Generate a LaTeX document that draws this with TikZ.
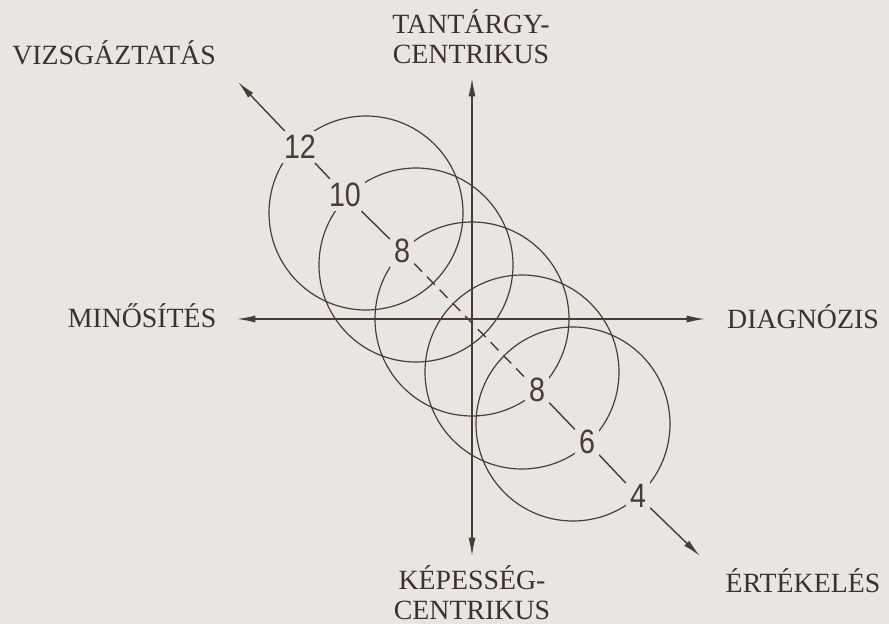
\documentclass[tikz,border=0pt]{standalone}
\usepackage{fontspec}
\setmainfont{Liberation Serif}
\newfontfamily\agefont[FakeStretch=0.85]{Liberation Sans}
\usepackage{tikz}
\usetikzlibrary{positioning,arrows.meta,calc}
\definecolor{pgpaper}{HTML}{E9E5E1}
\definecolor{pgink}{HTML}{4A3B37}
\definecolor{pgtext}{HTML}{3D312E}

\begin{document}
\begin{tikzpicture}[x=0.025cm,y=-0.025cm,
    axis/.style={pgink,line width=1pt,{Latex[length=13pt,width=5pt]}-{Latex[length=13pt,width=5pt]}},
    ray/.style={pgink,line width=1pt,-{Latex[length=13pt,width=5pt]}},
    ring/.style={pgink,line width=0.85pt},
    agelabel/.style={fill=pgpaper,text=pgink,inner sep=2.8pt,font=\agefont\fontsize{24}{24}\selectfont},
    pole/.style={text=pgtext,inner sep=0pt,font=\fontsize{19.8}{21.5}\selectfont}]
  \fill[pgpaper] (0,0) rectangle (889,624);
  \useasboundingbox (0,0) rectangle (889,624);
  \coordinate (O) at (472,319);
  \coordinate (upTip) at (472,78);
  \coordinate (downTip) at (472,556);
  \coordinate (leftTip) at (237,319);
  \coordinate (rightTip) at (705,319);
  \coordinate (ulTip) at (238,82);
  \coordinate (lrTip) at (700,556);
  \foreach \cx/\cy in {366/213,416/265,472/319,522/372,573/424}
    \draw[ring] (\cx,\cy) circle[radius=97];
  \foreach \name/\x/\y/\age in {n12/300/147/12,n10/345/195/10,n8a/402/251/8,
      n8b/537/390/8,n6/587/442/6,n4/638/496/4}
    \node[agelabel] (\name) at (\x,\y) {\age};
  \draw[axis] (downTip) -- (upTip);
  \draw[axis] (leftTip) -- (rightTip);
  \draw[ray] (n12) -- (ulTip);
  \draw[ray] (n4) -- (lrTip);
  \draw[pgink,line width=1pt] (n12) -- (n10) -- (n8a);
  \draw[pgink,line width=1pt] (n8b) -- (n6) -- (n4);
  \draw[pgink,line width=1pt,dash pattern=on 8pt off 5pt] (n8a) -- (n8b);
  \node[pole,anchor=base] (vizsga) at (114,65) {VIZSGÁZTATÁS};
  \node[pole,align=center,anchor=south] (tantargy) at (471,64) {TANTÁRGY-\\CENTRIKUS};
  \node[pole,anchor=base] (minosites) at (142,327) {MINŐSÍTÉS};
  \node[pole,anchor=base] (diagnozis) at (803,328) {DIAGNÓZIS};
  \node[pole,align=center,anchor=south] (kepesseg) at (472,620) {KÉPESSÉG-\\CENTRIKUS};
  \node[pole,anchor=base] (ertekeles) at (803,592) {ÉRTÉKELÉS};
\end{tikzpicture}
\end{document}
